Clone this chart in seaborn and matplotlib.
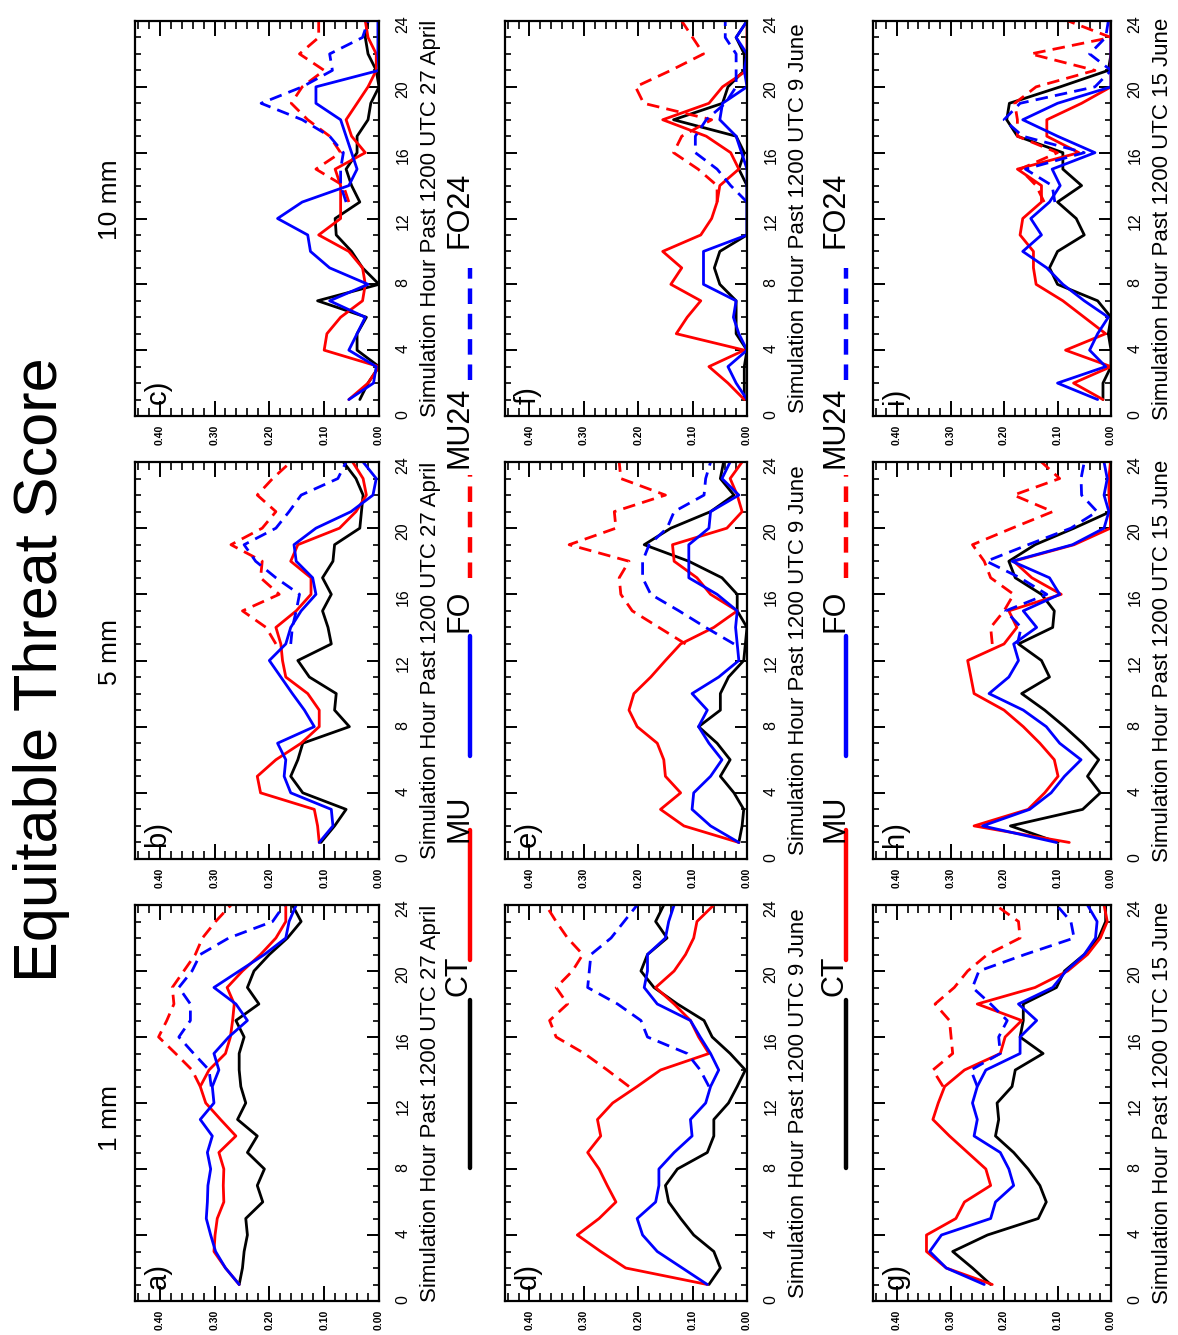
import numpy as np
import pandas as pd
import matplotlib
matplotlib.use("Agg")
import matplotlib.pyplot as plt
import seaborn as sns
from matplotlib.lines import Line2D
from matplotlib.ticker import MultipleLocator

sns.set_theme(style="white")
plt.rcParams["font.family"] = ["Liberation Sans", "DejaVu Sans"]

# ---------------- data ----------------
HOURS = list(range(1, 25))
HOURS24 = list(range(13, 25))
SERIES = ["CT", "MU", "FO", "MU24", "FO24"]
THRESHOLDS = ["1 mm", "5 mm", "10 mm"]
DATES = ["27 April", "9 June", "15 June"]
PANEL_LETTERS = ["a)", "b)", "c)", "d)", "e)", "f)", "g)", "h)", "i)"]
ETS_TICKS = [0.0, 0.1, 0.2, 0.3, 0.4]
ETS_TICK_LABELS = ["0.00", "0.10", "0.20", "0.30", "0.40"]
HOUR_TICKS = [0, 4, 8, 12, 16, 20, 24]

# a) 1 mm, 27 April
a_CT = [0.255, 0.249, 0.246, 0.240, 0.243, 0.212, 0.222, 0.209, 0.240, 0.222, 0.258, 0.243,
        0.252, 0.255, 0.255, 0.246, 0.261, 0.219, 0.240, 0.228, 0.200, 0.167, 0.142, 0.158]
a_MU = [0.255, 0.280, 0.301, 0.299, 0.295, 0.283, 0.284, 0.283, 0.292, 0.261, 0.289, 0.316,
        0.326, 0.310, 0.280, 0.271, 0.267, 0.264, 0.277, 0.249, 0.216, 0.188, 0.170, 0.170]
a_FO = [0.255, 0.280, 0.298, 0.307, 0.315, 0.313, 0.312, 0.307, 0.313, 0.304, 0.326, 0.301,
        0.304, 0.292, 0.301, 0.274, 0.240, 0.261, 0.301, 0.255, 0.209, 0.170, 0.164, 0.151]
a_MU24 = [0.326, 0.341, 0.371, 0.402, 0.387, 0.374, 0.377, 0.356, 0.335, 0.322, 0.298, 0.270]
a_FO24 = [0.306, 0.310, 0.338, 0.365, 0.344, 0.344, 0.365, 0.341, 0.326, 0.274, 0.194, 0.173]

# b) 5 mm, 27 April
b_CT = [0.106, 0.081, 0.060, 0.139, 0.161, 0.148, 0.139, 0.054, 0.081, 0.078, 0.127, 0.148,
        0.087, 0.093, 0.103, 0.087, 0.103, 0.084, 0.081, 0.035, 0.032, 0.029, 0.042, 0.065]
b_MU = [0.109, 0.112, 0.118, 0.216, 0.222, 0.188, 0.142, 0.109, 0.109, 0.130, 0.170, 0.176,
        0.179, 0.188, 0.151, 0.124, 0.124, 0.161, 0.148, 0.072, 0.042, 0.023, 0.029, 0.048]
b_FO = [0.109, 0.084, 0.087, 0.161, 0.173, 0.170, 0.185, 0.118, 0.136, 0.158, 0.179, 0.200,
        0.170, 0.161, 0.142, 0.115, 0.121, 0.151, 0.155, 0.115, 0.051, 0.011, 0.005, 0.029]
b_MU24 = [0.188, 0.206, 0.249, 0.182, 0.216, 0.213, 0.270, 0.213, 0.188, 0.222, 0.194, 0.161]
b_FO24 = [0.161, 0.158, 0.151, 0.145, 0.188, 0.225, 0.246, 0.188, 0.164, 0.142, 0.075, 0.060]

# c) 10 mm, 27 April
c_CT = [0.035, 0.020, 0.000, 0.040, 0.040, 0.023, 0.112, 0.000, 0.030, 0.050, 0.078, 0.080,
        0.035, 0.050, 0.060, 0.040, 0.040, 0.020, 0.015, 0.000, 0.005, 0.020, 0.025, 0.020]
c_MU = [0.055, 0.020, 0.000, 0.100, 0.095, 0.070, 0.030, 0.025, 0.030, 0.055, 0.110, 0.070,
        0.070, 0.070, 0.080, 0.025, 0.050, 0.060, 0.040, 0.020, 0.005, 0.005, 0.020, 0.025]
c_FO = [0.055, 0.010, 0.005, 0.055, 0.040, 0.025, 0.090, 0.020, 0.090, 0.125, 0.130, 0.185,
        0.140, 0.055, 0.040, 0.050, 0.060, 0.070, 0.115, 0.115, 0.000, 0.002, 0.002, 0.002]
c_MU24 = [0.055, 0.065, 0.115, 0.070, 0.090, 0.130, 0.160, 0.140, 0.100, 0.145, 0.110, 0.110]
c_FO24 = [0.060, 0.070, 0.070, 0.065, 0.090, 0.140, 0.215, 0.140, 0.085, 0.090, 0.030, 0.020]

# d) 1 mm, 9 June
d_CT = [0.070, 0.049, 0.061, 0.098, 0.122, 0.144, 0.150, 0.128, 0.073, 0.061, 0.061, 0.034,
        0.018, 0.003, 0.031, 0.064, 0.079, 0.128, 0.171, 0.195, 0.183, 0.147, 0.168, 0.153]
d_MU = [0.073, 0.223, 0.269, 0.312, 0.272, 0.241, 0.257, 0.272, 0.293, 0.269, 0.275, 0.247,
        0.202, 0.159, 0.070, 0.089, 0.104, 0.134, 0.168, 0.134, 0.113, 0.098, 0.092, 0.061]
d_FO = [0.073, 0.119, 0.165, 0.192, 0.202, 0.168, 0.162, 0.162, 0.134, 0.101, 0.104, 0.076,
        0.067, 0.052, 0.067, 0.086, 0.104, 0.165, 0.189, 0.183, 0.183, 0.150, 0.144, 0.134]
d_MU24 = [0.217, 0.257, 0.299, 0.351, 0.363, 0.330, 0.351, 0.321, 0.302, 0.330, 0.351, 0.370]
d_FO24 = [0.070, 0.086, 0.110, 0.183, 0.195, 0.238, 0.293, 0.290, 0.287, 0.250, 0.226, 0.202]

# e) 5 mm, 9 June
e_CT = [0.015, 0.009, 0.006, 0.024, 0.049, 0.031, 0.055, 0.089, 0.049, 0.049, 0.034, 0.006,
        0.003, 0.000, 0.018, 0.018, 0.046, 0.107, 0.189, 0.140, 0.067, 0.024, 0.049, 0.043]
e_MU = [0.015, 0.116, 0.159, 0.122, 0.150, 0.153, 0.165, 0.202, 0.217, 0.208, 0.177, 0.150,
        0.122, 0.061, 0.018, 0.067, 0.092, 0.134, 0.137, 0.037, 0.009, 0.018, 0.031, 0.009]
e_FO = [0.015, 0.067, 0.101, 0.098, 0.067, 0.046, 0.070, 0.089, 0.073, 0.101, 0.052, 0.015,
        0.018, 0.021, 0.018, 0.055, 0.107, 0.107, 0.107, 0.070, 0.067, 0.015, 0.046, 0.031]
e_MU24 = [0.113, 0.162, 0.211, 0.232, 0.235, 0.217, 0.327, 0.241, 0.244, 0.150, 0.232, 0.235]
e_FO24 = [0.024, 0.076, 0.125, 0.177, 0.192, 0.192, 0.180, 0.147, 0.134, 0.079, 0.076, 0.067]

# f) 10 mm, 9 June
f_CT = [0.005, 0.005, 0.005, 0.000, 0.020, 0.020, 0.020, 0.050, 0.060, 0.050, 0.000, 0.000,
        0.000, 0.000, 0.015, 0.005, 0.020, 0.135, 0.045, 0.035, 0.005, 0.005, 0.020, 0.000]
f_MU = [0.005, 0.035, 0.070, 0.005, 0.130, 0.110, 0.085, 0.140, 0.120, 0.155, 0.085, 0.065,
        0.055, 0.050, 0.015, 0.030, 0.075, 0.155, 0.070, 0.045, 0.000, 0.000, 0.000, 0.000]
f_FO = [0.000, 0.020, 0.035, 0.000, 0.015, 0.025, 0.020, 0.080, 0.080, 0.080, 0.000, 0.000,
        0.000, 0.000, 0.000, 0.010, 0.020, 0.050, 0.045, 0.000, 0.005, 0.000, 0.020, 0.000]
f_MU24 = [0.055, 0.055, 0.090, 0.135, 0.120, 0.065, 0.190, 0.205, 0.140, 0.080, 0.100, 0.120]
f_FO24 = [0.000, 0.030, 0.055, 0.095, 0.095, 0.075, 0.040, 0.020, 0.020, 0.020, 0.040, 0.040]

# g) 1 mm, 15 June
g_CT = [0.225, 0.259, 0.296, 0.231, 0.136, 0.121, 0.133, 0.155, 0.182, 0.216, 0.210, 0.213,
        0.185, 0.179, 0.127, 0.170, 0.164, 0.164, 0.102, 0.087, 0.050, 0.023, 0.010, 0.010]
g_MU = [0.222, 0.308, 0.345, 0.345, 0.290, 0.274, 0.225, 0.234, 0.268, 0.302, 0.333, 0.323,
        0.311, 0.274, 0.207, 0.198, 0.167, 0.250, 0.142, 0.081, 0.044, 0.020, 0.007, 0.013]
g_FO = [0.237, 0.308, 0.339, 0.317, 0.225, 0.216, 0.182, 0.191, 0.207, 0.256, 0.250, 0.259,
        0.250, 0.234, 0.170, 0.170, 0.139, 0.173, 0.109, 0.084, 0.050, 0.029, 0.026, 0.044]
g_MU24 = [0.314, 0.333, 0.296, 0.299, 0.302, 0.329, 0.293, 0.268, 0.231, 0.170, 0.173, 0.216]
g_FO24 = [0.250, 0.262, 0.207, 0.210, 0.194, 0.225, 0.259, 0.247, 0.161, 0.069, 0.075, 0.102]

# h) 5 mm, 15 June
h_CT = [0.099, 0.188, 0.053, 0.020, 0.044, 0.023, 0.053, 0.087, 0.124, 0.167, 0.115, 0.130,
        0.173, 0.109, 0.106, 0.130, 0.179, 0.191, 0.142, 0.069, 0.001, 0.001, 0.001, 0.001]
h_MU = [0.078, 0.256, 0.155, 0.124, 0.099, 0.106, 0.133, 0.164, 0.200, 0.256, 0.262, 0.268,
        0.200, 0.176, 0.191, 0.093, 0.148, 0.182, 0.069, 0.001, 0.001, 0.004, 0.004, 0.001]
h_FO = [0.102, 0.240, 0.152, 0.112, 0.087, 0.056, 0.096, 0.121, 0.164, 0.228, 0.191, 0.173,
        0.182, 0.139, 0.164, 0.096, 0.115, 0.185, 0.072, 0.013, 0.004, 0.013, 0.007, 0.013]
h_MU24 = [0.222, 0.225, 0.200, 0.182, 0.225, 0.237, 0.259, 0.185, 0.109, 0.182, 0.096, 0.130]
h_FO24 = [0.175, 0.168, 0.197, 0.120, 0.170, 0.233, 0.155, 0.075, 0.026, 0.055, 0.056, 0.050]

# i) 10 mm, 15 June
i_CT = [0.015, 0.015, 0.000, 0.000, 0.005, 0.000, 0.025, 0.100, 0.115, 0.100, 0.050, 0.065,
        0.100, 0.055, 0.090, 0.090, 0.175, 0.195, 0.190, 0.095, 0.005, 0.000, 0.000, 0.000]
i_MU = [0.015, 0.070, 0.000, 0.085, 0.010, 0.050, 0.090, 0.140, 0.145, 0.145, 0.170, 0.165,
        0.130, 0.130, 0.175, 0.060, 0.120, 0.120, 0.055, 0.000, 0.000, 0.000, 0.000, 0.000]
i_FO = [0.025, 0.100, 0.010, 0.040, 0.025, 0.005, 0.050, 0.090, 0.120, 0.165, 0.130, 0.150,
        0.115, 0.095, 0.110, 0.030, 0.100, 0.165, 0.100, 0.000, 0.000, 0.000, 0.000, 0.000]
i_MU24 = [0.125, 0.140, 0.170, 0.100, 0.175, 0.175, 0.180, 0.140, 0.030, 0.150, 0.000, 0.080]
i_FO24 = [0.105, 0.110, 0.160, 0.050, 0.165, 0.200, 0.170, 0.030, 0.000, 0.040, 0.010, 0.005]

PANEL_DATA = [
    [a_CT, a_MU, a_FO, a_MU24, a_FO24],
    [b_CT, b_MU, b_FO, b_MU24, b_FO24],
    [c_CT, c_MU, c_FO, c_MU24, c_FO24],
    [d_CT, d_MU, d_FO, d_MU24, d_FO24],
    [e_CT, e_MU, e_FO, e_MU24, e_FO24],
    [f_CT, f_MU, f_FO, f_MU24, f_FO24],
    [g_CT, g_MU, g_FO, g_MU24, g_FO24],
    [h_CT, h_MU, h_FO, h_MU24, h_FO24],
    [i_CT, i_MU, i_FO, i_MU24, i_FO24],
]

# ---------------- styling ----------------
COLORS = {"CT": "black", "MU": "#ff0000", "FO": "#0000ff", "MU24": "#ff0000", "FO24": "#0000ff"}
DASHED = {"CT": False, "MU": False, "FO": False, "MU24": True, "FO24": True}

W, H = 1178, 1335
fig = plt.figure(figsize=(W / 100, H / 100), dpi=100)
fig.patch.set_facecolor("white")

# image-pixel layout (the figure is drawn rotated: hour axis vertical, ETS horizontal)
COL_X = [(135, 379), (505, 747), (873, 1111)]      # per date
ROW_Y = [(905, 1301), (462, 859), (21, 416)]        # per threshold

for p in range(9):
    di, ti = divmod(p, 3)
    x0, x1 = COL_X[di]
    y0, y1 = ROW_Y[ti]
    ax = fig.add_axes([x0 / W, 1 - y1 / H, (x1 - x0) / W, (y1 - y0) / H])
    ax.set_facecolor("white")

    rows = []
    for s, vals in zip(SERIES, PANEL_DATA[p]):
        hrs = HOURS if len(vals) == 24 else HOURS24
        rows.append(pd.DataFrame({"hour": hrs, "ets": vals, "series": s}))
    df = pd.concat(rows, ignore_index=True)

    for s in SERIES:
        sub = df[df["series"] == s]
        kw = dict(linestyle=(0, (4.5, 2.6))) if DASHED[s] else {}
        sns.lineplot(data=sub, x="ets", y="hour", orient="y", estimator=None,
                     color=COLORS[s], lw=2.0, ax=ax, legend=False, **kw)

    ax.set_xlim(0.445, 0.0)
    ax.set_ylim(0, 24)
    ax.set_xticks(ETS_TICKS)
    ax.set_xticklabels(ETS_TICK_LABELS, fontweight="bold")
    ax.xaxis.set_minor_locator(MultipleLocator(0.02))
    ax.set_yticks(HOUR_TICKS)
    ax.yaxis.set_minor_locator(MultipleLocator(1))

    ax.tick_params(axis="x", which="both", direction="in", top=True, bottom=True,
                   labelbottom=True, labeltop=False, labelrotation=90,
                   labelsize=7.5, pad=6, color="black", labelcolor="black")
    ax.tick_params(axis="x", which="major", length=11, width=1.4)
    ax.tick_params(axis="x", which="minor", length=5.5, width=1.2)
    ax.tick_params(axis="y", which="both", direction="in", left=True, right=True,
                   labelleft=False, labelright=True, labelrotation=90,
                   labelsize=11.5, pad=12, color="black", labelcolor="black")
    ax.tick_params(axis="y", which="major", length=8.5, width=1.4)
    ax.tick_params(axis="y", which="minor", length=4.5, width=1.2)
    for sp in ax.spines.values():
        sp.set_color("black")
        sp.set_linewidth(1.6)

    ax.set_xlabel("")
    ax.yaxis.set_label_position("right")
    ax.set_ylabel("Simulation Hour Past 1200 UTC " + DATES[di], fontsize=16,
                  rotation=90, color="black")
    ax.yaxis.set_label_coords((x1 + 41 - x0) / (x1 - x0), 0.5)

    ax.text(0.035, 0.03, PANEL_LETTERS[p], transform=ax.transAxes, rotation=90,
            ha="left", va="bottom", fontsize=21, color="black")

# title and column headers
fig.text(42 / W, 1 - 670 / H, "Equitable Threat Score", rotation=90,
         ha="center", va="center", fontsize=44, color="black")
for ti, yc in zip(range(3), [1118, 652, 200]):
    fig.text(110 / W, 1 - yc / H, THRESHOLDS[ti], rotation=90,
             ha="center", va="center", fontsize=19, color="black")

# legends (two copies, between panel columns)
LEG_ITEMS = [  # (series, line start y, line end y, text start y)
    ("CT", 1168, 1000, 996),
    ("MU", 960, 830, 842),
    ("FO", 756, 636, 632),
    ("MU24", 578, 475, 468),
    ("FO24", 380, 268, 248),
]
for lx in [470, 846]:
    for s, ya, yb, yt in LEG_ITEMS:
        ls = (0, (3.5, 2.2)) if DASHED[s] else "-"
        fig.add_artist(Line2D([lx / W, lx / W], [1 - ya / H, 1 - yb / H],
                              transform=fig.transFigure, color=COLORS[s], lw=3.2,
                              linestyle=ls, solid_capstyle="round"))
        fig.text((lx + 4) / W, 1 - yt / H, s, rotation=90, ha="right", va="bottom",
                 fontsize=22, color="black")

fig.savefig("out.png", dpi=100, facecolor="white")
